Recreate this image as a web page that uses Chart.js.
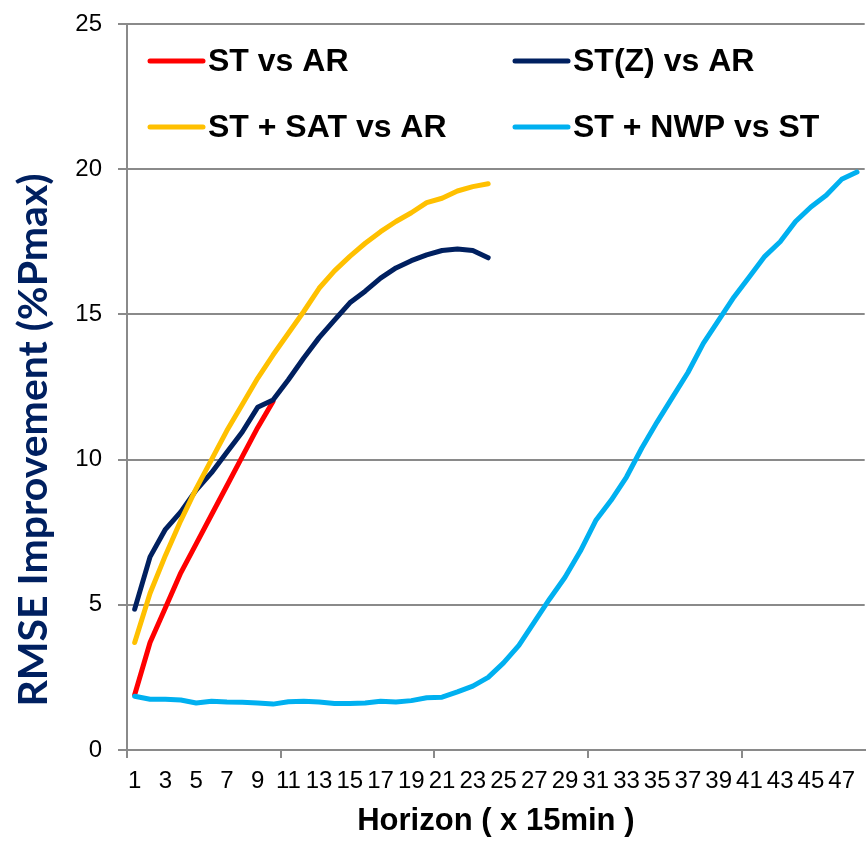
<!DOCTYPE html>
<html lang="en">
<head>
    <meta charset="UTF-8">
    <title>RMSE Improvement vs Horizon</title>
    <script src="https://cdn.jsdelivr.net/npm/chart.js"></script>
    <style>
        html, body { margin: 0; padding: 0; background: #fff; }
        #wrap { position: relative; width: 866px; height: 843px; }
    </style>
</head>
<body>
    <div id="wrap"><canvas id="rmseChart"></canvas></div>

    <script>
        // Horizon steps (x 15 min)
        const horizons = ['1','2','3','4','5','6','7','8','9','10','11','12','13','14','15','16',
            '17','18','19','20','21','22','23','24','25','26','27','28','29','30','31','32',
            '33','34','35','36','37','38','39','40','41','42','43','44','45','46','47','48'];

        // RMSE improvement (%Pmax)
        const stVsAr = [1.9, 3.7, 4.9, 6.1, 7.1, 8.1, 9.1, 10.1, 11.1, 12.0];
        const stzVsAr = [4.85, 6.65, 7.6, 8.2, 8.95, 9.55, 10.25, 10.95, 11.8, 12.05,
            12.75, 13.5, 14.2, 14.8, 15.4, 15.8, 16.25, 16.6, 16.85, 17.05, 17.2, 17.25, 17.2, 16.95];
        const stSatVsAr = [3.7, 5.4, 6.7, 7.9, 9.0, 10.0, 11.0, 11.9, 12.8, 13.6,
            14.35, 15.1, 15.9, 16.5, 17.0, 17.45, 17.85, 18.2, 18.5, 18.85, 19.0, 19.25, 19.4, 19.5];
        const stNwpVsSt = [1.85, 1.75, 1.75, 1.72, 1.62, 1.68, 1.65, 1.64, 1.62, 1.58,
            1.66, 1.68, 1.65, 1.6, 1.6, 1.62, 1.68, 1.65, 1.7, 1.8, 1.82, 2.0, 2.2, 2.5,
            3.0, 3.6, 4.4, 5.2, 5.95, 6.85, 7.9, 8.6, 9.4, 10.4, 11.3, 12.15, 13.0, 14.0,
            14.8, 15.6, 16.3, 17.0, 17.5, 18.2, 18.7, 19.1, 19.65, 19.9];

        const seriesNames = ['ST vs AR', 'ST(Z) vs AR', 'ST + SAT vs AR', 'ST + NWP vs ST'];
        const seriesColors = ['#FF0000', '#002060', '#FFC000', '#00B0F0'];
        const yTicks = [0, 5, 10, 15, 20, 25];

        const gridGray = '#8a8a8a';

        // 2 x 2 legend inside the plot, like the original
        const gridLegend = {
            id: 'gridLegend',
            afterDraw(chart) {
                const { ctx, chartArea } = chart;
                const colX = [chartArea.left + 23, chartArea.left + 388];
                const rowY = [chartArea.top + 37, chartArea.top + 103];
                ctx.save();
                ctx.font = 'bold 32px "Liberation Sans", Arial, sans-serif';
                ctx.textBaseline = 'middle';
                ctx.textAlign = 'left';
                chart.data.datasets.forEach((ds, i) => {
                    const x = colX[i % 2];
                    const y = rowY[Math.floor(i / 2)];
                    ctx.strokeStyle = ds.borderColor;
                    ctx.lineWidth = 5;
                    ctx.lineCap = 'round';
                    ctx.beginPath();
                    ctx.moveTo(x, y);
                    ctx.lineTo(x + 53, y);
                    ctx.stroke();
                    ctx.fillStyle = '#000';
                    ctx.fillText(ds.label, x + 58, y + 1);
                });
                ctx.restore();
            }
        };

        // rotated y title, sitting lower than the axis centre as in the original
        const yTitle = {
            id: 'yTitle',
            afterDraw(chart) {
                const { ctx } = chart;
                ctx.save();
                ctx.translate(34, 440);
                ctx.rotate(-Math.PI / 2);
                ctx.font = 'bold 41px Lato, "Open Sans", sans-serif';
                ctx.fillStyle = '#002060';
                ctx.textAlign = 'center';
                ctx.textBaseline = 'middle';
                ctx.fillText('RMSE Improvement (%Pmax)', 0, 0);
                ctx.restore();
            }
        };

        const ds = (i, data, order) => ({
            label: seriesNames[i],
            data: data,
            borderColor: seriesColors[i],
            backgroundColor: seriesColors[i],
            borderWidth: 5,
            pointRadius: 0,
            tension: 0,
            fill: false,
            spanGaps: false,
            borderCapStyle: 'round',
            borderJoinStyle: 'round',
            order: order
        });

        new Chart(document.getElementById('rmseChart'), {
            type: 'line',
            data: {
                labels: horizons,
                datasets: [
                    ds(0, stVsAr, 4),
                    ds(1, stzVsAr, 3),
                    ds(2, stSatVsAr, 2),
                    ds(3, stNwpVsSt, 1)
                ]
            },
            options: {
                responsive: true,
                maintainAspectRatio: false,
                animation: false,
                layout: { padding: { top: 24, right: 0, left: 0, bottom: 0 } },
                plugins: {
                    legend: { display: false },
                    tooltip: { enabled: false }
                },
                scales: {
                    x: {
                        type: 'category',
                        offset: true,
                        afterFit(scale) { scale.height = 93; },
                        grid: {
                            offset: true,
                            drawOnChartArea: false,
                            drawTicks: true,
                            tickLength: 8,
                            lineWidth: 2,
                            color: ctx => (ctx.index % 10 === 0 ? gridGray : 'rgba(0,0,0,0)')
                        },
                        border: { display: true, color: gridGray, width: 2 },
                        ticks: {
                            autoSkip: false,
                            maxRotation: 0,
                            minRotation: 0,
                            padding: 9,
                            color: '#000',
                            font: { family: '"Liberation Sans", Arial, sans-serif', size: 24 },
                            callback: (v, i) => (i % 2 === 0 ? horizons[i] : '')
                        },
                        title: {
                            display: true,
                            text: 'Horizon ( x 15min )',
                            color: '#000',
                            font: { family: '"Liberation Sans", Arial, sans-serif', size: 31, weight: 'bold' },
                            padding: { top: 0, bottom: 3 }
                        }
                    },
                    y: {
                        min: 0,
                        max: 25,
                        afterFit(scale) {
                            scale.width = 127;
                            scale.paddingTop = 0;
                        },
                        afterBuildTicks(scale) { scale.ticks = yTicks.map(v => ({ value: v })); },
                        grid: {
                            color: gridGray,
                            lineWidth: 2,
                            drawTicks: true,
                            tickLength: 9
                        },
                        border: { display: true, color: gridGray, width: 2 },
                        ticks: {
                            padding: 16,
                            color: '#000',
                            font: { family: '"Liberation Sans", Arial, sans-serif', size: 24 }
                        }
                    }
                }
            },
            plugins: [gridLegend, yTitle]
        });
    </script>
</body>
</html>
